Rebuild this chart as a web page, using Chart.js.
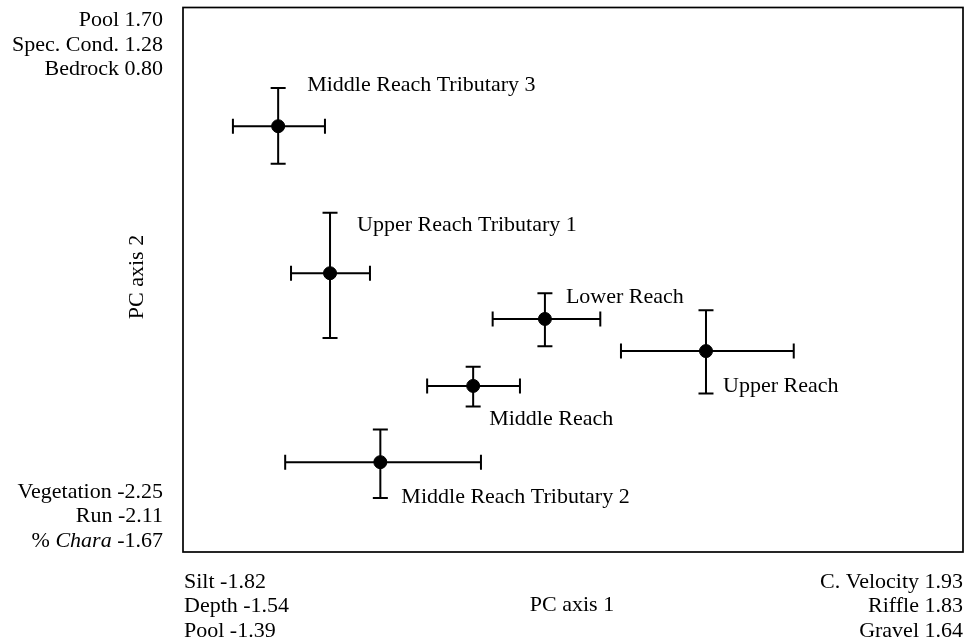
<!DOCTYPE html>
<html>
<head>
<meta charset="utf-8">
<title>PCA habitat plot</title>
<script src="https://cdn.jsdelivr.net/npm/chart.js@4.4.0/dist/chart.umd.min.js"></script>
<style>
  html, body { margin: 0; padding: 0; background: #fff; }
  #wrap { width: 979px; height: 643px; }
</style>
</head>
<body>
<div id="wrap"><canvas id="pcaChart" width="979" height="643"></canvas></div>
<script>
// Site means on PC axes (plot units 0-100) with error bars
const sites = ['Middle Reach Tributary 3', 'Upper Reach Tributary 1', 'Lower Reach', 'Upper Reach', 'Middle Reach', 'Middle Reach Tributary 2'];
const pc1 = [12.2, 18.85, 46.4, 67.05, 37.2, 25.3];
const pc1Low = [6.4, 13.85, 39.7, 56.15, 31.3, 13.1];
const pc1High = [18.2, 23.97, 53.5, 78.3, 43.2, 38.2];
const pc2 = [78.2, 51.2, 42.8, 36.9, 30.5, 16.5];
const pc2Low = [71.3, 39.3, 37.8, 29.1, 26.7, 9.9];
const pc2High = [85.2, 62.3, 47.5, 44.4, 34.0, 22.5];

// Loadings shown at the ends of the axes
const yTopLabels = ['Pool 1.70', 'Spec. Cond. 1.28', 'Bedrock 0.80'];
const yBottomLabels = ['Vegetation -2.25', 'Run -2.11', '% Chara -1.67'];
const xLeftLabels = ['Silt -1.82', 'Depth -1.54', 'Pool -1.39'];
const xRightLabels = ['C. Velocity 1.93', 'Riffle 1.83', 'Gravel 1.64'];

// where each site name sits relative to its point (px)
const labelOffsets = [[29, -41], [27, -48], [21, -22], [17, 35], [16, 33], [21, 35]];

const FONT = '22px "Liberation Serif", "Times New Roman", serif';
const ITALIC = 'italic 22px "Liberation Serif", "Times New Roman", serif';

// draws "% Chara -1.67" with the genus in italics, right aligned
function drawMixed(ctx, text, xRight, y) {
  const m = text.match(/^(% )(Chara)( .*)$/);
  if (!m) {
    ctx.font = FONT;
    ctx.textAlign = 'right';
    ctx.fillText(text, xRight, y);
    return;
  }
  ctx.textAlign = 'left';
  ctx.font = FONT;
  const w1 = ctx.measureText(m[1]).width;
  const w3 = ctx.measureText(m[3]).width;
  ctx.font = ITALIC;
  const w2 = ctx.measureText(m[2]).width;
  let x = xRight - (w1 + w2 + w3);
  ctx.font = FONT; ctx.fillText(m[1], x, y); x += w1;
  ctx.font = ITALIC; ctx.fillText(m[2], x, y); x += w2;
  ctx.font = FONT; ctx.fillText(m[3], x, y);
}

const errorBarPlugin = {
  id: 'errorBars',
  beforeDatasetsDraw(chart) {
    const { ctx, scales: { x, y } } = chart;
    const cap = 7.5;
    ctx.save();
    ctx.strokeStyle = '#000';
    ctx.lineWidth = 2;
    pc1.forEach((v, i) => {
      const px = x.getPixelForValue(v);
      const py = y.getPixelForValue(pc2[i]);
      const xl = x.getPixelForValue(pc1Low[i]);
      const xh = x.getPixelForValue(pc1High[i]);
      const yl = y.getPixelForValue(pc2Low[i]);
      const yh = y.getPixelForValue(pc2High[i]);
      ctx.beginPath();
      ctx.moveTo(xl, py); ctx.lineTo(xh, py);
      ctx.moveTo(xl, py - cap); ctx.lineTo(xl, py + cap);
      ctx.moveTo(xh, py - cap); ctx.lineTo(xh, py + cap);
      ctx.moveTo(px, yl); ctx.lineTo(px, yh);
      ctx.moveTo(px - cap, yl); ctx.lineTo(px + cap, yl);
      ctx.moveTo(px - cap, yh); ctx.lineTo(px + cap, yh);
      ctx.stroke();
    });
    ctx.restore();
  },
  afterDraw(chart) {
    const { ctx, chartArea: a, scales: { x, y } } = chart;
    ctx.save();
    // frame
    ctx.strokeStyle = '#000';
    ctx.lineWidth = 1.7;
    ctx.strokeRect(a.left, a.top, a.right - a.left, a.bottom - a.top);

    ctx.fillStyle = '#000';
    ctx.textBaseline = 'middle';
    ctx.font = FONT;

    // site names
    ctx.textAlign = 'left';
    sites.forEach((s, i) => {
      const px = x.getPixelForValue(pc1[i]);
      const py = y.getPixelForValue(pc2[i]);
      ctx.fillText(s, px + labelOffsets[i][0], py + labelOffsets[i][1]);
    });

    const lh = 24.5;
    ctx.textAlign = 'right';
    yTopLabels.forEach((t, i) => ctx.fillText(t, a.left - 20, a.top + 13 + i * lh));
    yBottomLabels.forEach((t, i) => drawMixed(ctx, t, a.left - 20, a.bottom - 60 + i * lh));
    ctx.font = FONT;
    ctx.textAlign = 'left';
    xLeftLabels.forEach((t, i) => ctx.fillText(t, a.left + 1, a.bottom + 30 + i * lh));
    ctx.textAlign = 'right';
    xRightLabels.forEach((t, i) => ctx.fillText(t, a.right, a.bottom + 30 + i * lh));

    // axis titles
    ctx.textAlign = 'center';
    ctx.fillText('PC axis 1', 572, a.bottom + 53);
    ctx.translate(137, 277);
    ctx.rotate(-Math.PI / 2);
    ctx.fillText('PC axis 2', 0, 0);
    ctx.restore();
  }
};

new Chart(document.getElementById('pcaChart'), {
  type: 'scatter',
  data: {
    datasets: [{
      label: 'Sites',
      data: pc1.map((v, i) => ({ x: v, y: pc2[i] })),
      backgroundColor: '#000',
      borderColor: '#000',
      pointRadius: 6.5,
      pointHoverRadius: 6.5
    }]
  },
  options: {
    responsive: false,
    animation: false,
    layout: { padding: { left: 183, right: 16, top: 5, bottom: 91 } },
    plugins: { legend: { display: false }, tooltip: { enabled: false } },
    scales: {
      x: { display: false, min: 0, max: 100 },
      y: { display: false, min: 0, max: 100 }
    }
  },
  plugins: [errorBarPlugin]
});
</script>
</body>
</html>
